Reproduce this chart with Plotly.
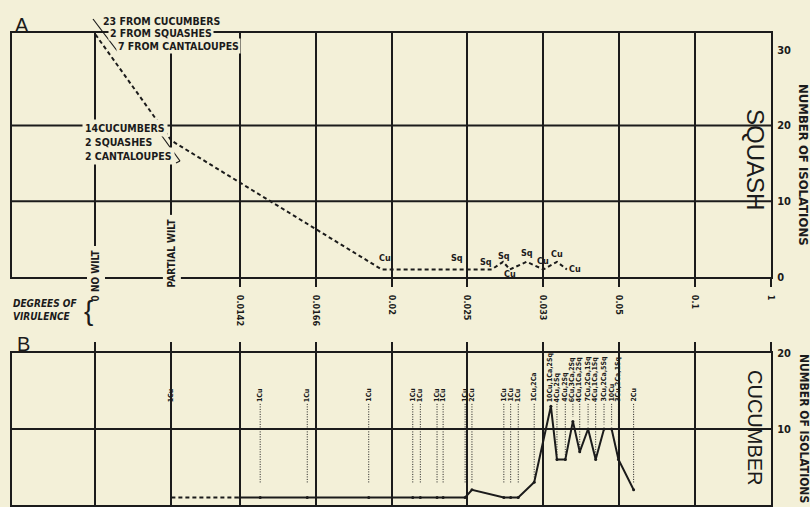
import plotly.graph_objects as go

# ---------------------------------------------------------------- data
# Degrees of virulence along the horizontal scale (shared by A and B)
VIRULENCE_LABELS = ["0 NO WILT", "PARTIAL WILT", "0.0142", "0.0166", "0.02",
                    "0.025", "0.033", "0.05", "0.1", "1"]
VIRULENCE_X = [0, 1, 1.9, 2.9, 3.9, 4.9, 5.9, 6.9, 7.9, 8.9]

# A - isolations from squash
SQUASH_X = [0, 1, 3.77, 4.76, 5.22, 5.37, 5.46, 5.68, 5.9, 6.08, 6.21]
SQUASH_N = [32, 18, 1, 1, 1, 2, 1, 2, 1, 2, 1]
SQUASH_TAGS = ["", "", "Cu", "Sq", "Sq", "Sq", "Cu", "Sq", "Cu", "Cu", "Cu"]
SQUASH_NO_WILT = ["23 FROM CUCUMBERS", "2 FROM SQUASHES", "7 FROM CANTALOUPES"]
SQUASH_PARTIAL = ["14CUCUMBERS", "2 SQUASHES", "2 CANTALOUPES"]

# B - isolations from cucumber
CUC_X = [1.0, 1.9, 2.17, 2.79, 3.60, 4.18, 4.28, 4.50, 4.58, 4.87, 4.96,
         5.38, 5.47, 5.57, 5.78, 6.00, 6.08, 6.19, 6.29, 6.38, 6.49, 6.59,
         6.70, 6.80, 6.89, 7.09]
CUC_N = [1, 1, 1, 1, 1, 1, 1, 1, 1, 1, 2,
         1, 1, 1, 3, 13, 6, 6, 11, 7, 10, 6,
         10, 10, 6, 2]
CUC_TAGS = ["1Cu", "", "1Cu", "1Cu", "1Cu", "1Cu", "1Cu", "1Cu", "1Cu", "1Cu", "2Cu",
            "1Cu", "1Cu", "1Cu", "1Cu,2Ca", "10Cu,1Ca,2Sq", "4Cu,2Sq", "4Cu,2Sq",
            "6Cu,3Ca,2Sq", "4Cu,1Ca,2Sq", "7Cu,2Ca,1Sq", "4Cu,1Ca,1Sq",
            "3Cu,2Ca,5Sq", "10Cu", "3Cu,2Ca,1Sq", "2Cu"]

# ---------------------------------------------------------------- style
W, H = 810, 507
PAPER = "#f3f0d8"
INK = "#1b1b1b"
NARROW = "Liberation Sans Narrow, DejaVu Sans Condensed, Arial Narrow, sans-serif"
PLAIN = "Liberation Sans, DejaVu Sans, Arial, sans-serif"

# label offsets (pixels) for the small Cu / Sq tags in A
SQUASH_TAG_SHIFT = [None, None, (3, 11), (0, 11), (-6, 7), (1, 6), (0, -5),
                    (0, 9), (0, 8), (0, 8), (8, 0)]


def px(x):
    return x / W


def py(y):
    return 1 - y / H


def paper_text(x, y, text, size, family=NARROW, angle=0, **kw):
    d = dict(x=px(x), y=py(y), xref="paper", yref="paper", text=text,
             showarrow=False, textangle=angle, xanchor="center", yanchor="middle",
             font=dict(family=family, size=size, color=INK))
    d.update(kw)
    return d


fig = go.Figure()

# A: dashed curve
fig.add_trace(go.Scatter(
    x=SQUASH_X, y=SQUASH_N, mode="lines", xaxis="x", yaxis="y",
    line=dict(color=INK, width=2, dash="4px,3px"), hoverinfo="skip"))

# B: dashed stretch before the first dilution, solid afterwards
fig.add_trace(go.Scatter(
    x=CUC_X[:2], y=CUC_N[:2], mode="lines", xaxis="x2", yaxis="y2",
    line=dict(color=INK, width=2, dash="4px,3px"), hoverinfo="skip"))
fig.add_trace(go.Scatter(
    x=CUC_X[1:], y=CUC_N[1:], mode="lines+markers", xaxis="x2", yaxis="y2",
    line=dict(color=INK, width=2), marker=dict(size=3, color=INK),
    hoverinfo="skip"))

# B: dotted leaders from each tag down towards its point
LABEL_BASE = 13.3
lx, ly = [], []
for x, n, t in zip(CUC_X, CUC_N, CUC_TAGS):
    if not t:
        continue
    end = max(n + 0.6, 2.9)
    if end < LABEL_BASE - 0.3:
        lx += [x, x, None]
        ly += [LABEL_BASE, end, None]
fig.add_trace(go.Scatter(
    x=lx, y=ly, mode="lines", xaxis="x2", yaxis="y2",
    line=dict(color=INK, width=1, dash="1px,1.5px"), hoverinfo="skip"))

annotations = []

# A: Cu / Sq tags
for x, n, t, s in zip(SQUASH_X, SQUASH_N, SQUASH_TAGS, SQUASH_TAG_SHIFT):
    if not t:
        continue
    annotations.append(dict(
        x=x, y=n, xref="x", yref="y", text="<b>%s</b>" % t, showarrow=False,
        xshift=s[0], yshift=s[1], font=dict(family=NARROW, size=9, color=INK)))

# B: rotated tags above the curve
for x, n, t in zip(CUC_X, CUC_N, CUC_TAGS):
    if not t:
        continue
    annotations.append(dict(
        x=x, y=max(LABEL_BASE, n + 0.1), xref="x2", yref="y2",
        text="<b>%s</b>" % t, showarrow=False, textangle=-90,
        xanchor="center", yanchor="bottom",
        font=dict(family=NARROW, size=7, color=INK)))

# A: counts at no wilt (staggered lines) and at partial wilt
for i, (line, x0, y0) in enumerate(zip(SQUASH_NO_WILT, [101, 108, 116], [21, 33, 46])):
    annotations.append(paper_text(
        x0, y0, "<b>%s</b>" % line, 10.5, xanchor="left",
        bgcolor=PAPER if i else None, borderpad=1))
for line, y0 in zip(SQUASH_PARTIAL, [128, 142, 156]):
    annotations.append(paper_text(
        82, y0, "<b>%s</b>" % line, 10.5, xanchor="left",
        bgcolor=PAPER, borderpad=2))

# rotated wilt labels on the first two verticals of A
for x, txt, yc in [(VIRULENCE_X[0], VIRULENCE_LABELS[0], 275),
                   (VIRULENCE_X[1], VIRULENCE_LABELS[1], 253)]:
    annotations.append(dict(
        x=x, y=py(yc), xref="x", yref="paper", text="<b>%s</b>" % txt,
        showarrow=False, textangle=-90, bgcolor=PAPER, borderpad=3,
        xanchor="center", yanchor="middle",
        font=dict(family=NARROW, size=10, color=INK)))

# panel letters, names and side titles
annotations += [
    paper_text(22, 25, "A", 20, family=PLAIN),
    paper_text(23, 344, "B", 20, family=PLAIN),
    paper_text(756, 159, "SQUASH", 24, family=PLAIN, angle=90),
    paper_text(755, 428, "CUCUMBER", 20, family=PLAIN, angle=90),
    paper_text(804, 165, "<b>NUMBER OF ISOLATIONS</b>", 13, angle=90),
    paper_text(804, 428, "<b>NUMBER OF ISOLATIONS</b>", 12, angle=90),
    paper_text(11, 310, "<b><i>DEGREES OF<br>VIRULENCE</i></b>", 10,
               xanchor="left", align="left"),
    paper_text(88, 310, "{", 28, family=PLAIN),
]

shapes = [
    # horizontal rules inside A and B
    dict(type="line", xref="x domain", yref="y", x0=0, x1=1, y0=10, y1=10,
         line=dict(color=INK, width=2), layer="below"),
    dict(type="line", xref="x domain", yref="y", x0=0, x1=1, y0=20, y1=20,
         line=dict(color=INK, width=2), layer="below"),
    dict(type="line", xref="x2 domain", yref="y2", x0=0, x1=1, y0=10, y1=10,
         line=dict(color=INK, width=2), layer="below"),
    # pointers beside the count blocks
    dict(type="line", xref="paper", yref="paper", x0=px(93), y0=py(19),
         x1=px(118), y1=py(52), line=dict(color=INK, width=1.2)),
    dict(type="line", xref="paper", yref="paper", x0=px(154), y0=py(125),
         x1=px(180), y1=py(161), line=dict(color=INK, width=1.2)),
    dict(type="line", xref="paper", yref="paper", x0=px(180), y0=py(161),
         x1=px(176), y1=py(163), line=dict(color=INK, width=1.2)),
]

x_dom = [px(12), px(771)]
x_range = [-1.1, 8.9]
common_x = dict(range=x_range, domain=x_dom, tickmode="array", tickvals=VIRULENCE_X,
                showgrid=True, gridcolor=INK, gridwidth=1.6, zeroline=False,
                showline=True, linecolor=INK, linewidth=2, mirror=True,
                ticks="outside", tickcolor=INK, tickwidth=2, automargin=False)
common_y = dict(side="right", zeroline=False, showgrid=False, showline=True,
                linecolor=INK, linewidth=2, mirror=True, ticks="", automargin=False,
                ticklabelstandoff=2,
                tickfont=dict(family=NARROW, size=11, color=INK))

fig.update_layout(
    width=W, height=H, autosize=False, showlegend=False,
    margin=dict(l=0, r=0, t=0, b=0, pad=0),
    paper_bgcolor=PAPER, plot_bgcolor=PAPER,
    xaxis=dict(common_x, anchor="y", ticklen=8,
               ticktext=["", ""] + ["<b>%s</b>" % t for t in VIRULENCE_LABELS[2:]],
               tickangle=90, ticklabelstandoff=6,
               tickfont=dict(family=NARROW, size=9, color=INK)),
    yaxis=dict(common_y, domain=[py(277), py(33)], range=[0, 32.2],
               tickvals=[0, 10, 20, 30],
               ticktext=["<b>0</b>", "<b>10</b>", "<b>20</b>", "<b>30</b>"]),
    xaxis2=dict(common_x, anchor="y2", side="top", ticklen=9, showticklabels=False),
    yaxis2=dict(common_y, domain=[py(505), py(353)], range=[0, 20],
                tickvals=[0, 10, 20], ticktext=["<b>0</b>", "<b>10</b>", "<b>20</b>"]),
    annotations=annotations, shapes=shapes,
)

fig.write_html("out.html")
